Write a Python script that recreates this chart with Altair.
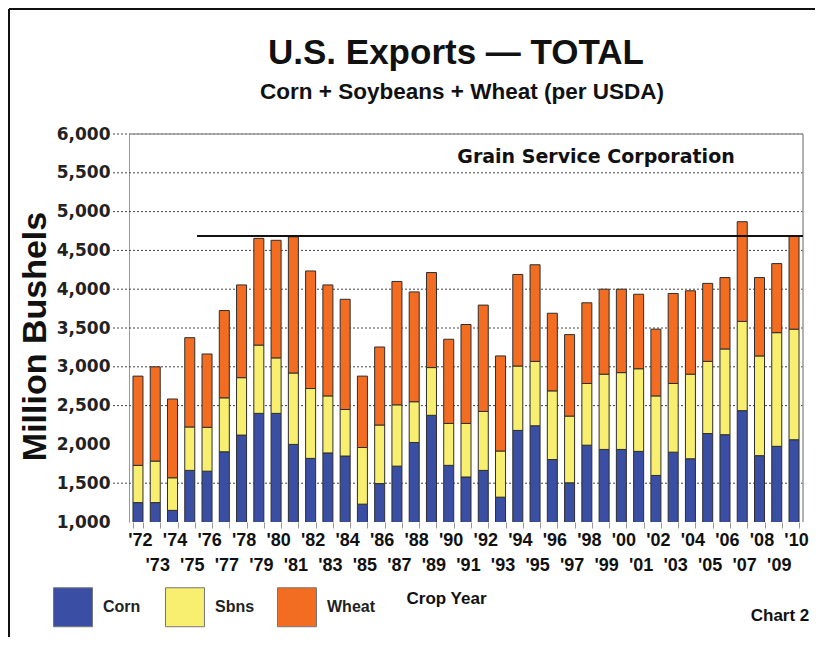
import altair as alt
import pandas as pd

# ---------------- data (million bushels) ----------------
years = ["'72", "'73", "'74", "'75", "'76", "'77", "'78", "'79", "'80", "'81",
         "'82", "'83", "'84", "'85", "'86", "'87", "'88", "'89", "'90", "'91",
         "'92", "'93", "'94", "'95", "'96", "'97", "'98", "'99", "'00", "'01",
         "'02", "'03", "'04", "'05", "'06", "'07", "'08", "'09", "'10"]
corn = [1250, 1250, 1150, 1665, 1655, 1905, 2120, 2400, 2400, 2000,
        1820, 1890, 1850, 1230, 1495, 1720, 2025, 2375, 1730, 1580,
        1665, 1320, 2180, 2240, 1805, 1505, 1990, 1935, 1935, 1910,
        1600, 1900, 1815, 2140, 2125, 2435, 1855, 1975, 2060]
soybeans = [480, 535, 420, 560, 565, 695, 740, 880, 715, 920,
            900, 735, 600, 730, 755, 790, 525, 615, 540, 690,
            760, 595, 830, 830, 885, 860, 795, 970, 990, 1065,
            1025, 885, 1090, 930, 1105, 1150, 1285, 1465, 1425]
wheat = [1150, 1215, 1015, 1150, 945, 1125, 1195, 1375, 1515, 1755,
         1515, 1430, 1420, 920, 1005, 1590, 1415, 1225, 1085, 1275,
         1370, 1225, 1180, 1245, 1000, 1050, 1040, 1095, 1075, 960,
         860, 1160, 1075, 1005, 920, 1285, 1010, 890, 1200]
crops = ["Corn", "Sbns", "Wheat"]
crop_colors = ["#3a4fa3", "#f8ef70", "#f26c22"]
record_level = 4685
y_ticks = [1000, 1500, 2000, 2500, 3000, 3500, 4000, 4500, 5000, 5500, 6000]
grid_levels = [1500, 2500, 3000, 3500, 4000, 4500, 5000, 5500, 6000]

rows = []
for i, yr in enumerate(years):
    for k, (name, vals) in enumerate(zip(crops, [corn, soybeans, wheat])):
        rows.append({"year": yr, "crop": name, "value": vals[i], "ord": k})
df = pd.DataFrame(rows)

W, H = 674, 388
SANS = "Liberation Sans, Arial, sans-serif"

xscale = alt.Scale(domain=years, paddingInner=0.42, paddingOuter=0.23)
yscale = alt.Scale(domain=[1000, 6000], nice=False, zero=False)

label_expr = ("toNumber(substring(datum.label, 1)) % 2 == 0 ? datum.label : "
              "['', '\u00a0\u00a0\u00a0' + datum.label]")

x_axis = alt.Axis(title="Crop Year", titleFont=SANS, titleFontSize=17,
                  titleFontWeight="bold", titleColor="#111",
                  titleX=317, titleY=81, titleBaseline="alphabetic",
                  titleAlign="center",
                  labelAngle=0, labelFont=SANS, labelFontSize=18,
                  labelFontWeight="bold", labelColor="#111",
                  labelPadding=3, labelOffset=2, labelLineHeight=25,
                  labelOverlap=False, labelBound=False, labelExpr=label_expr,
                  tickBand="extent", tickSize=6, tickColor="#999",
                  domain=False, grid=False)
y_axis = alt.Axis(values=y_ticks, labelExpr="format(datum.value, ',')",
                  labelFont="DejaVu Sans",
                  labelFontSize=17, labelFontWeight="bold", labelColor="#222",
                  labelPadding=19, ticks=False, domainColor="#999",
                  grid=False, title="Million Bushels", titleFont=SANS,
                  titleFontSize=34, titleFontWeight="bold", titleColor="#111",
                  titleX=-77, titleY=202)

bars = alt.Chart(df).mark_bar(clip=True, stroke="#2e2e2e", strokeWidth=1).encode(
    x=alt.X("year:N", sort=years, scale=xscale, axis=x_axis),
    y=alt.Y("value:Q", stack="zero", scale=yscale, axis=y_axis),
    color=alt.Color("crop:N", scale=alt.Scale(domain=crops, range=crop_colors),
                    legend=alt.Legend(orient="none", legendX=-76, legendY=453,
                                      direction="horizontal", title=None,
                                      symbolType="square", symbolSize=1520,
                                      symbolStrokeColor="#777", symbolStrokeWidth=1,
                                      symbolOpacity=1, labelFont=SANS,
                                      labelFontSize=16, labelFontWeight="bold",
                                      labelColor="#222", labelOffset=10,
                                      columnPadding=12, gridAlign="all", padding=0)),
    order=alt.Order("ord:Q"),
)

grid = alt.Chart(pd.DataFrame({"value": grid_levels})).mark_rule(
    color="#444", strokeWidth=1, strokeDash=[2, 2]).encode(
    y=alt.Y("value:Q", scale=yscale, axis=y_axis),
    x=alt.value(-16), x2=alt.value(W),
)

frame_top = alt.Chart(pd.DataFrame({"a": [0]})).mark_rule(color="#999", strokeWidth=1.5).encode(
    x=alt.value(0), x2=alt.value(W), y=alt.value(0))
frame_right = alt.Chart(pd.DataFrame({"a": [0]})).mark_rule(color="#999", strokeWidth=1.5).encode(
    x=alt.value(W), y=alt.value(0), y2=alt.value(H))
outer_top = alt.Chart(pd.DataFrame({"a": [0]})).mark_rule(color="#111", strokeWidth=2).encode(
    x=alt.value(-120), x2=alt.value(690), y=alt.value(-125))
outer_left = alt.Chart(pd.DataFrame({"a": [0]})).mark_rule(color="#111", strokeWidth=2).encode(
    x=alt.value(-120), y=alt.value(-125), y2=alt.value(505))

record = alt.Chart(pd.DataFrame({"a": [0]})).mark_rule(color="#111", strokeWidth=2, xOffset=-5).encode(
    x=alt.XDatum("'76", bandPosition=0, scale=xscale, axis=x_axis),
    x2=alt.value(W),
    y=alt.YDatum(record_level, scale=yscale, axis=y_axis),
)


def label(text, x, y, size, font, align="center", weight="bold"):
    return alt.Chart(pd.DataFrame({"t": [text]})).mark_text(
        font=font, fontSize=size, fontWeight=weight, color="#111",
        align=align, baseline="alphabetic").encode(
        text="t:N", x=alt.value(x), y=alt.value(y))


title = label("U.S. Exports \u2014 TOTAL", 327, -70, 35, SANS)
subtitle = label("Corn + Soybeans + Wheat (per USDA)", 333, -35, 22.5, SANS)
grain = label("Grain Service Corporation", 467, 29, 19, "DejaVu Sans")
chart2 = label("Chart 2", 651, 487, 17, SANS)

chart = alt.layer(grid, bars, frame_top, frame_right, outer_top, outer_left, record,
                  title, subtitle, grain, chart2).properties(
    width=W, height=H,
    autosize=alt.AutoSizeParams(type="none"),
    padding={"left": 121, "top": 126, "right": 12, "bottom": 115},
    background="white",
).configure_view(stroke=None)

chart.save("out.html", embed_options={"renderer": "svg", "actions": False})
